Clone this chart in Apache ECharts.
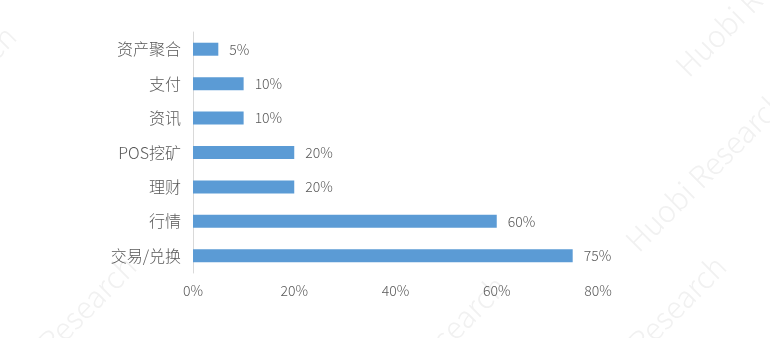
<!DOCTYPE html>
<html>
<head>
<meta charset="utf-8">
<script src="https://cdn.jsdelivr.net/npm/echarts@6/dist/echarts.min.js"></script>
<style>
html,body{margin:0;padding:0;background:#fff;}
#main{width:770px;height:338px;}
</style>
</head>
<body>
<div id="main"></div>
<script>
var categories = ['资产聚合', '支付', '资讯', 'POS挖矿', '理财', '行情', '交易/兑换'];
var values = [5, 10, 10, 20, 20, 60, 75];
var xTicks = [0, 20, 40, 60, 80];

var chart = echarts.init(document.getElementById('main'), null, {renderer: 'canvas'});
var font = '"Noto Sans CJK SC", "Noto Sans", sans-serif';
function wm(x, y, text) {
  return {
    type: 'text', x: x, y: y, rotation: Math.PI / 4, silent: true, z: -10,
    style: {text: text, fill: '#f1f1f1', font: '300 30px ' + font}
  };
}
chart.setOption({
  animation: false,
  backgroundColor: '#ffffff',
  graphic: [
    wm(-150, 170, 'Huobi Research'),
    wm(-30, 400, 'Huobi Research'),
    wm(670, 60, 'Huobi Research'),
    wm(620, 235, 'Huobi Research'),
    wm(560, 400, 'Huobi Research'),
    wm(340, 420, 'Huobi Research')
  ],
  grid: {left: 193, right: 172, top: 32, bottom: 65, containLabel: false},
  xAxis: {
    type: 'value', min: xTicks[0], max: xTicks[xTicks.length - 1], interval: 20,
    axisLine: {show: false}, axisTick: {show: false}, splitLine: {show: false},
    axisLabel: {formatter: '{value}%', color: '#595959', fontSize: 14, fontWeight: 300, fontFamily: font, margin: 11}
  },
  yAxis: {
    type: 'category', data: categories, inverse: true,
    axisLine: {show: true, lineStyle: {color: '#d9d9d9', width: 1}},
    axisTick: {show: false},
    axisLabel: {color: '#595959', fontSize: 16, fontWeight: 300, fontFamily: font, margin: 12}
  },
  series: [{
    type: 'bar', data: values, barWidth: 13,
    itemStyle: {color: '#5B9BD5'},
    label: {show: true, position: 'right', distance: 11, formatter: '{c}%', color: '#595959', fontSize: 14, fontWeight: 300, fontFamily: font}
  }]
});
</script>
</body>
</html>
